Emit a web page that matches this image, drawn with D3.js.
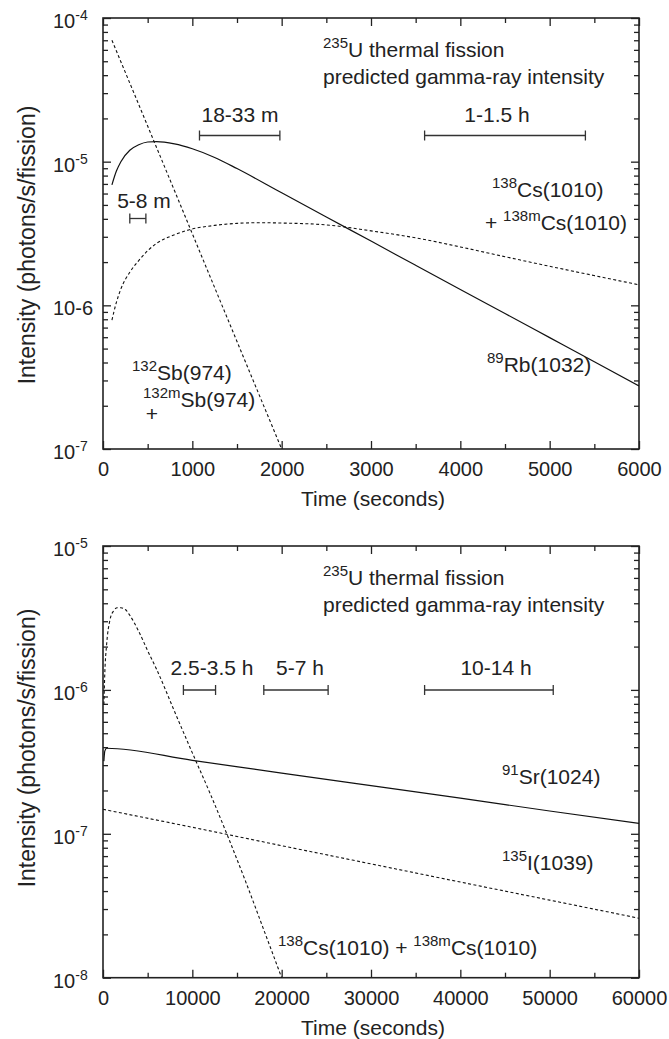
<!DOCTYPE html>
<html><head><meta charset="utf-8">
<script src="https://cdn.jsdelivr.net/npm/d3@7"></script>
<style>
body{margin:0;background:#fff;}
svg text{font-family:"Liberation Sans", Arial, Helvetica, sans-serif; fill:#222;}
</style></head>
<body><svg id="c" width="669" height="1039"></svg>
<script>
// ---------------- data ----------------
const topXTicks = [0,1000,2000,3000,4000,5000,6000];
const topXMinor = [500,1500,2500,3500,4500,5500];
const topYTicks = [1e-4,1e-5,1e-6,1e-7];
const topYTickLabels = [["10","-4"],["10","-5"],["10-6",""],["10","-7"]];

const sbTime = [100,500,1000,1500,2000];
const sbVal  = [7.0e-5,1.77e-5,3.15e-6,5.6e-7,1.0e-7];

const rbTime = [100,150,200,300,400,500,600,800,1000,1250,1500,2000,2500,3000,3500,4000,4500,5000,5500,6000];
const rbVal  = [6.9e-6,8.6e-6,1.0e-5,1.2e-5,1.31e-5,1.37e-5,1.38e-5,1.33e-5,1.23e-5,1.07e-5,8.95e-6,6.07e-6,4.12e-6,2.80e-6,1.90e-6,1.29e-6,8.77e-7,5.96e-7,4.05e-7,2.75e-7];

const csTime = [100,150,200,300,400,500,600,800,1000,1250,1500,1750,2000,2500,3000,3500,4000,4500,5000,5500,6000];
const csVal  = [7.9e-7,1.05e-6,1.3e-6,1.7e-6,2.05e-6,2.4e-6,2.7e-6,3.1e-6,3.4e-6,3.6e-6,3.72e-6,3.76e-6,3.74e-6,3.63e-6,3.30e-6,2.95e-6,2.55e-6,2.18e-6,1.87e-6,1.61e-6,1.39e-6];

const topRanges = [[300,480],[1080,1980],[3600,5400]];
const topRangeLabels = ["5-8 m","18-33 m","1-1.5 h"];

const botXTicks = [0,10000,20000,30000,40000,50000,60000];
const botXMinor = [5000,15000,25000,35000,45000,55000];
const botYTicks = [1e-5,1e-6,1e-7,1e-8];
const botYTickLabels = [["10","-5"],["10","-6"],["10","-7"],["10","-8"]];

const cs2Time = [100,200,400,800,1200,1600,2000,2500,3000,4000,5000,6000,8000,10000,12000,14000,16000,18000,20000];
const cs2Val  = [7.9e-7,1.3e-6,2.05e-6,3.1e-6,3.55e-6,3.72e-6,3.72e-6,3.62e-6,3.30e-6,2.55e-6,1.87e-6,1.39e-6,7.1e-7,3.65e-7,1.9e-7,9.5e-8,4.6e-8,2.15e-8,1.0e-8];

const srTime = [100,200,400,10000,20000,30000,40000,50000,60000];
const srVal  = [3.2e-7,3.75e-7,3.93e-7,3.24e-7,2.64e-7,2.16e-7,1.77e-7,1.44e-7,1.18e-7];

const iTime = [0,10000,20000,30000,40000,50000,60000];
const iVal  = [1.48e-7,1.11e-7,8.27e-8,6.18e-8,4.62e-8,3.46e-8,2.59e-8];

const botRanges = [[9000,12600],[18000,25200],[36000,50400]];
const botRangeLabels = ["2.5-3.5 h","5-7 h","10-14 h"];

// ---------------- drawing ----------------
const svg = d3.select("#c");
const X0 = 103, X1 = 639;
const INK = "#222";
const SUP = 15;

function minorLogTicks(lo, hi){
  const out=[];
  for(let e=Math.floor(Math.log10(lo)); e<=Math.ceil(Math.log10(hi)); e++){
    for(let m=2;m<=9;m++){const v=m*Math.pow(10,e); if(v>lo*1.0001 && v<hi*0.9999) out.push(v);}
  }
  return out;
}

function panel(cfg){
  const g = svg.append("g");
  const x = d3.scaleLinear().domain(cfg.xDomain).range([X0,X1]);
  const y = d3.scaleLog().domain(cfg.yDomain).range([cfg.yB, cfg.yT]);
  const yMinor = minorLogTicks(cfg.yDomain[0], cfg.yDomain[1]);

  const clipId = "clip"+cfg.id;
  g.append("clipPath").attr("id",clipId).append("rect")
    .attr("x",X0).attr("y",cfg.yT).attr("width",X1-X0).attr("height",cfg.yB-cfg.yT);

  function ax(axis, tr){
    const a = g.append("g").attr("transform",tr).attr("color",INK).call(axis);
    a.select(".domain").remove();
    a.selectAll("line").attr("stroke-width",1.3);
    return a;
  }
  const bAx = ax(d3.axisBottom(x).tickValues(cfg.xTicks).tickSize(-8).tickPadding(13).tickFormat(d3.format("d")), `translate(0,${cfg.yB})`);
  bAx.selectAll("text").attr("font-size",20).attr("font-family",'"Liberation Sans", Arial, sans-serif').attr("fill",INK);
  ax(d3.axisBottom(x).tickValues(cfg.xMinor).tickSize(-5).tickFormat(""), `translate(0,${cfg.yB})`);
  ax(d3.axisTop(x).tickValues(cfg.xTicks).tickSize(-8).tickFormat(""), `translate(0,${cfg.yT})`);
  ax(d3.axisTop(x).tickValues(cfg.xMinor).tickSize(-5).tickFormat(""), `translate(0,${cfg.yT})`);
  ax(d3.axisLeft(y).tickValues(cfg.yTicks).tickSize(-8).tickFormat(""), `translate(${X0},0)`);
  ax(d3.axisLeft(y).tickValues(yMinor).tickSize(-5).tickFormat(""), `translate(${X0},0)`);
  ax(d3.axisRight(y).tickValues(cfg.yTicks).tickSize(-8).tickFormat(""), `translate(${X1},0)`);
  ax(d3.axisRight(y).tickValues(yMinor).tickSize(-5).tickFormat(""), `translate(${X1},0)`);

  g.append("rect").attr("x",X0).attr("y",cfg.yT).attr("width",X1-X0).attr("height",cfg.yB-cfg.yT)
    .attr("fill","none").attr("stroke",INK).attr("stroke-width",1.6);

  cfg.yTicks.forEach((v,i)=>{
    const lab = cfg.yLabels[i];
    const t = g.append("text").attr("x",53).attr("y",y(v)+10).attr("font-size",20);
    t.append("tspan").text(lab[0]);
    if(lab[1]) t.append("tspan").attr("font-size",14).attr("dy",-8).text(lab[1]);
  });

  g.append("text").attr("x",(X0+X1)/2+2).attr("y",cfg.yB+57).attr("text-anchor","middle")
    .attr("font-size",21).text("Time (seconds)");
  g.append("text").attr("transform",`translate(35,${cfg.yLabelC}) rotate(-90)`)
    .attr("text-anchor","middle").attr("font-size",23).text("Intensity (photons/s/fission)");

  const line = d3.line().x(d=>x(d[0])).y(d=>y(d[1])).curve(d3.curveMonotoneX);
  const cg = g.append("g").attr("clip-path",`url(#${clipId})`);
  cfg.series.forEach(s=>{
    const pts = s.t.map((t,i)=>[t,s.v[i]]);
    cg.append("path").attr("d",line(pts)).attr("fill","none").attr("stroke","#111")
      .attr("stroke-width",s.dash?1.1:1.2).attr("stroke-dasharray",s.dash?"3,2.4":null);
  });

  cfg.ranges.forEach((r,i)=>{
    const yy = cfg.rangeY[i], x1 = x(r[0]), x2 = x(r[1]);
    g.append("line").attr("x1",x1).attr("x2",x2).attr("y1",yy).attr("y2",yy).attr("stroke","#333").attr("stroke-width",1.3);
    [x1,x2].forEach(xx=>g.append("line").attr("x1",xx).attr("x2",xx).attr("y1",yy-5).attr("y2",yy+5).attr("stroke","#333").attr("stroke-width",1.3));
    g.append("text").attr("x",cfg.rangeTextX[i]).attr("y",cfg.rangeTextY[i]).attr("text-anchor","middle")
      .attr("font-size",21).text(cfg.rangeLabels[i]);
  });

  const t1 = g.append("text").attr("x",323).attr("y",cfg.yT+39).attr("font-size",21);
  t1.append("tspan").attr("font-size",SUP).attr("dy",-9).text("235");
  t1.append("tspan").attr("dy",9).text("U thermal fission");
  g.append("text").attr("x",323).attr("y",cfg.yT+66).attr("font-size",21).text("predicted gamma-ray intensity");

  return {g,x,y};
}

function iso(g, xx, yy, parts){
  const t = g.append("text").attr("x",xx).attr("y",yy).attr("font-size",21);
  let prevSup=false;
  parts.forEach(p=>{
    const isSup = p[0]==="sup";
    const ts = t.append("tspan").text(p[1]);
    if(isSup) ts.attr("font-size",SUP).attr("dy",-9);
    else ts.attr("dy", prevSup?9:0);
    prevSup = isSup;
  });
  return t;
}

const P1 = panel({id:1, xDomain:[0,6000], yDomain:[1e-7,1e-4], yT:18, yB:449, yLabelC:245,
  xTicks:topXTicks, xMinor:topXMinor, yTicks:topYTicks, yLabels:topYTickLabels,
  series:[{t:sbTime,v:sbVal,dash:true},{t:rbTime,v:rbVal,dash:false},{t:csTime,v:csVal,dash:true}],
  ranges:topRanges, rangeLabels:topRangeLabels, rangeY:[218.5,135.5,135.5],
  rangeTextX:[144,240,497], rangeTextY:[208,122,122]});
iso(P1.g, 492, 197, [["sup","138"],["n","Cs(1010)"]]);
iso(P1.g, 485, 230, [["n","+ "],["sup","138m"],["n","Cs(1010)"]]);
iso(P1.g, 132, 380, [["sup","132"],["n","Sb(974)"]]);
iso(P1.g, 143, 407, [["sup","132m"],["n","Sb(974)"]]);
P1.g.append("text").attr("x",152).attr("y",420.5).attr("text-anchor","middle").attr("font-size",21).text("+");
iso(P1.g, 487, 372, [["sup","89"],["n","Rb(1032)"]]);

const P2 = panel({id:2, xDomain:[0,60000], yDomain:[1e-8,1e-5], yT:546, yB:977.7, yLabelC:748,
  xTicks:botXTicks, xMinor:botXMinor, yTicks:botYTicks, yLabels:botYTickLabels,
  series:[{t:cs2Time,v:cs2Val,dash:true},{t:srTime,v:srVal,dash:false},{t:iTime,v:iVal,dash:true}],
  ranges:botRanges, rangeLabels:botRangeLabels, rangeY:[690,690,690],
  rangeTextX:[212,300,496], rangeTextY:[675,675,675]});
iso(P2.g, 502, 784, [["sup","91"],["n","Sr(1024)"]]);
iso(P2.g, 502, 870, [["sup","135"],["n","I(1039)"]]);
iso(P2.g, 278, 955, [["sup","138"],["n","Cs(1010) + "],["sup","138m"],["n","Cs(1010)"]]);
</script>
</body></html>
